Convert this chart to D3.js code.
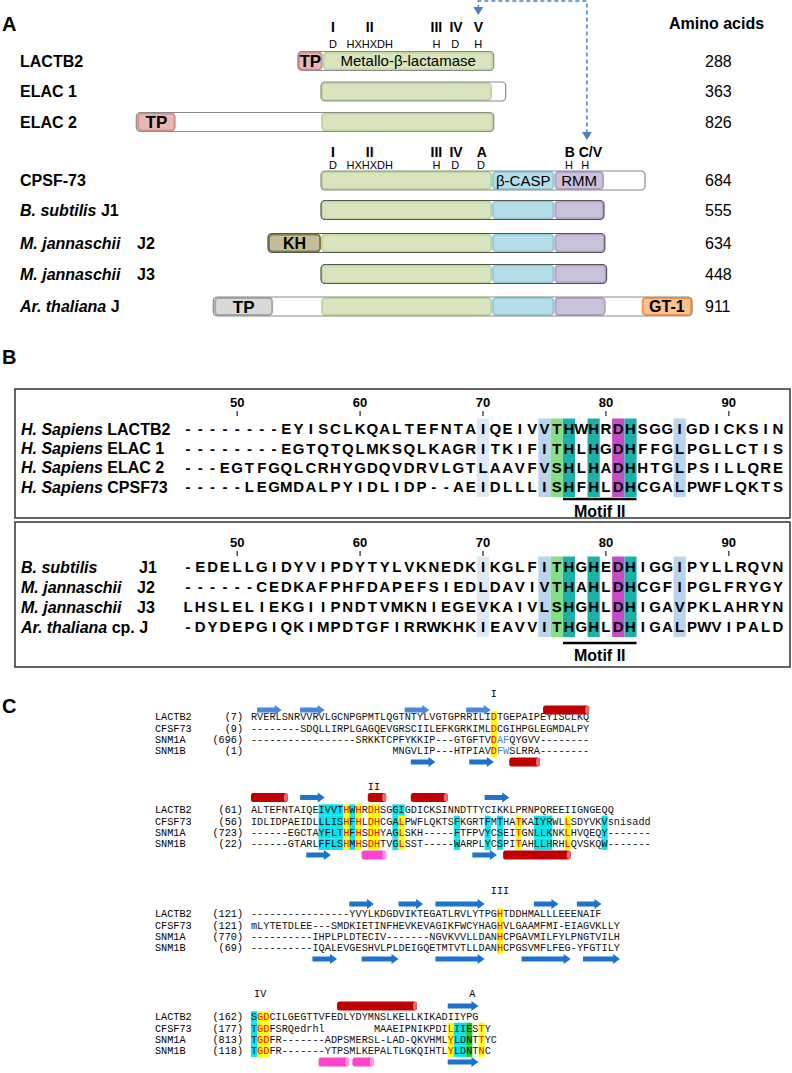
<!DOCTYPE html>
<html>
<head>
<meta charset="utf-8">
<script src="https://cdn.jsdelivr.net/npm/d3@7/dist/d3.min.js"></script>
<style>
  body { margin: 0; background: #fff; }
  text { font-family: "Liberation Sans", Arial, sans-serif; }
  .mono { font-family: "Liberation Mono", "Courier New", monospace; }
</style>
</head>
<body>
<svg id="fig" width="792" height="1073"></svg>
<script>
//------------ PANEL A DATA -----------
var protNames = ["LACTB2", "ELAC 1", "ELAC 2", "CPSF-73", "J1", "J2", "J3", "J"];
var protSpecies = ["", "", "", "", "B. subtilis", "M. jannaschii", "M. jannaschii", "Ar. thaliana"];
var aaLengths = [288, 363, 826, 684, 555, 634, 448, 911];
// schematic units: the metallo-b-lactamase core runs 0..100
var protSpans = [[-13.5, 101], [0, 108], [-108, 101], [0, 189.5], [0, 165.5], [-31, 166], [0, 167], [-63, 217]];
var domLACTB2 = [["TP", -13.5, 1, "TP"], ["MBL", 1, 101, "Metallo-β-lactamase"]];
var domELAC1 = [["MBL", 0, 100, ""]];
var domELAC2 = [["TP", -107.5, -85, "TP"], ["MBL", 0, 101, ""]];
var domCPSF73 = [["MBL", 0, 100, ""], ["CASP", 100, 136.5, "β-CASP"], ["RMM", 136.5, 165.5, "RMM"]];
var domJ1 = [["MBL", 0, 100, ""], ["CASP", 100, 136.5, ""], ["RMM", 136.5, 165.5, ""]];
var domJ2 = [["KH", -31, 0, "KH"], ["MBL", 0, 100, ""], ["CASP", 100, 136.5, ""], ["RMM", 136.5, 166, ""]];
var domJ3 = [["MBL", 0, 100, ""], ["CASP", 100, 136.5, ""], ["RMM", 136.5, 167, ""]];
var domArJ = [["TPg", -62.5, -28, "TP"], ["MBL", 0, 100, ""], ["CASP", 100, 136.5, ""], ["RMM", 136.5, 166.5, ""], ["GT", 187.5, 217, "GT-1"]];
// [numeral, residue, numeral position, residue position]
var motifsTop = [["I", "D", 7, 7], ["II", "HXHXDH", 28.5, 28.5], ["III", "H", 67.5, 67.5], ["IV", "D", 79, 78.5], ["V", "H", 92, 92]];
var motifsLow = [["I", "D", 7, 7], ["II", "HXHXDH", 28.5, 28.5], ["III", "H", 67.5, 67.5], ["IV", "D", 79, 78.5], ["A", "D", 94, 93.5],
  ["B", "H", 145.5, 145], ["C/V", "H", 157.5, 154.5]];

//------------ PANEL B DATA -----------
var posTicks = [50, 60, 70, 80, 90];
var hsNames = ["LACTB2", "ELAC 1", "ELAC 2", "CPSF73"];
var hsSeqs = [
  "--------EYISCLKQALTEFNTAIQEIVVTHWHRDHSGGIGDICKSIN",
  "--------EGTQTQLMKSQLKAGRITKIFITHLHGDHFFGLPGLLCTIS",
  "---EGTFGQLCRHYGDQVDRVLGTLAAVFVSHLHADHHTGLPSILLQRE",
  "-----LEGMDALPYIDLIDP--AEIDLLLISHFHLDHCGALPWFLQKTS"
];
var jSpecies = ["B. subtilis", "M. jannaschii", "M. jannaschii", "Ar. thaliana"];
var jNames = ["J1", "J2", "J3", "cp. J"];
var jSeqs = [
  "-EDELLGIDYVIPDYTYLVKNEDKIKGLFITHGHEDHIGGIPYLLRQVN",
  "------CEDKAFPHFDAPEFSIEDLDAVIVTHAHLDHCGFIPGLFRYGY",
  "LHSLELIEKGIIPNDTVMKNIEGEVKAIVLSHGHLDHIGAVPKLAHRYN",
  "-DYDEPGIQKIMPDTGFIRRWKHKIEAVVITHGHLDHIGALPWVIPALD"
];
var firstPos = 46;
// [residue position, shading class]
var shadePos = [[70, "pale"], [75, "blue"], [76, "green"], [77, "teal"], [79, "teal"], [81, "mag"], [82, "teal"], [86, "blue"]];
var motifIIPos = [77, 82];

//------------ PANEL C DATA -----------
var cNames = ["LACTB2", "CFSF73", "SNM1A", "SNM1B"];
var c1Start = ["(7)", "(9)", "(696)", "(1)"];
var c1Seqs = [
  "RVERLSNRVVRVLGCNPGPMTLQGTNTYLVGTGPRRILIDTGEPAIPEYISCLKQ",
  "--------SDQLLIRPLGAGQEVGRSCIILEFKGRKIMLDCGIHPGLEGMDALPY",
  "-----------------SRKKTCPFYKKIP---GTGFTVDAFQYGVV--------",
  "                       MNGVLIP---HTPIAVDFWSLRRA--------"
];
var c2Start = ["(61)", "(56)", "(723)", "(22)"];
var c2Seqs = [
  "ALTEFNTAIQEIVVTHWHRDHSGGIGDICKSINNDTTYCIKKLPRNPQREEIIGNGEQQ",
  "IDLIDPAEIDLLLISHFHLDHCGALPWFLQKTSFKGRTFMTHATKAIYRWLLSDYVKVsnisadd",
  "------EGCTAYFLTHFHSDHYAGLSKH-----FTFPVYCSEITGNLLKNKLHVQEQY-------",
  "------GTARLFFLSHMHSDHTVGLSST-----WARPLYCSPITAHLLHRHLQVSKQW-------"
];
var c3Start = ["(121)", "(121)", "(770)", "(69)"];
var c3Seqs = [
  "----------------YVYLKDGDVIKTEGATLRVLYTPGHTDDHMALLLEEENAIF",
  "mLYTETDLEE---SMDKIETINFHEVKEVAGIKFWCYHAGHVLGAAMFMI-EIAGVKLLY",
  "----------IHPLPLDTECIV-------NGVKVVLLDANHCPGAVMILFYLPNGTVILH",
  "----------IQALEVGESHVLPLDEIGQETMTVTLLDANHCPGSVMFLFEG-YFGTILY"
];
var c4Start = ["(162)", "(177)", "(813)", "(118)"];
var c4Seqs = [
  "SGDCILGEGTTVFEDLYDYMNSLKELLKIKADIIYPG",
  "TGDFSRQedrhl        MAAEIPNIKPDILIIESTY",
  "TGDFR-------ADPSMERSL-LAD-QKVHMLYLDNTTYC",
  "TGDFR-------YTPSMLKEPALTLGKQIHTLYLDNTNC"
];
// shading: [fromCol, toCol, rows, kind]  y = yellow/red, c = cyan, g = green, b = blue letters
var c1Shade = [[39, 39, [0, 1, 2, 3], "y"], [40, 41, [2, 3], "b"]];
var c2Shade = [[11, 14, [0, 1, 2, 3], "c"], [15, 15, [0, 1, 2, 3], "y"], [16, 16, [0, 1, 2, 3], "c"], [17, 17, [0, 1, 2, 3], "y"],
  [19, 20, [0, 1, 2, 3], "y"], [23, 23, [0, 1, 2, 3], "c"], [24, 24, [0], "c"], [24, 24, [1, 2, 3], "y"],
  [33, 33, [1, 2, 3], "c"], [38, 38, [1, 2, 3], "c"], [40, 40, [1, 2, 3], "c"], [43, 43, [1, 2, 3], "y"],
  [46, 48, [1, 2, 3], "c"], [51, 51, [1, 2, 3], "y"], [57, 57, [1, 2, 3], "c"]];
var c3Shade = [[40, 40, [0, 1, 2, 3], "y"]];
var c4Shade = [[0, 0, [0, 1, 2, 3], "c"], [1, 2, [0, 1, 2, 3], "y"], [32, 32, [1, 2, 3], "y"], [33, 34, [1, 2, 3], "c"],
  [35, 35, [1, 2, 3], "g"], [37, 37, [1, 2, 3], "y"]];
// secondary structure: [kind, fromCol, toCol]  a = strand arrow, h = red helix, m = magenta helix
var c1Top = [["a", 1, 4], ["a", 8, 11], ["a", 25, 28], ["a", 35, 38], ["h", 47.5, 54]];
var c1Bot = [["a", 26, 29], ["a", 35.5, 38.5], ["h", 42, 46]];
var c2Top = [["h", 0, 5], ["a", 8, 11], ["h", 19, 21], ["h", 26, 31], ["a", 38, 41]];
var c2Bot = [["a", 9, 12], ["m", 18, 21], ["a", 36, 39], ["h", 41, 51]];
var c3Top = [["a", 16, 19], ["a", 24, 27], ["a", 30, 37], ["a", 46, 49], ["a", 53, 56]];
var c3Bot = [["a", 10, 13], ["a", 18, 23], ["a", 30, 37], ["a", 44, 51], ["a", 54, 59]];
var c4Top = [["h", 14, 26], ["a", 32, 36]];
var c4Bot = [["m", 11, 15], ["m", 16.5, 19], ["a", 32, 36]];
var c1Marks = [["I", 39]];
var c2Marks = [["II", 19.5]];
var c3Marks = [["III", 40]];
var c4Marks = [["IV", 1], ["A", 35.5]];

var svg = d3.select("#fig");

//------------ PANEL LETTERS -----------
[["A", 24], ["B", 357], ["C", 706]].forEach(function(p){
  svg.append("text").attr("x", 2).attr("y", p[1]).attr("dy", "0.35em")
    .style("font-size", "20px").style("font-weight", "bold").text(p[0]);
});

//------------ PANEL A -----------
var xA = d3.scaleLinear().domain([0, 100]).range([321, 492]);
var yA = d3.scaleOrdinal().domain(d3.range(8)).range([61, 91.5, 122, 180.5, 210, 243, 274, 306.5]);
var domRows = [domLACTB2, domELAC1, domELAC2, domCPSF73, domJ1, domJ2, domJ3, domArJ];
var domStyle = {
  TP:   {fill: "#e6b9b8", stroke: "#d48f8d", bold: true, size: 17},
  TPg:  {fill: "#d9d9d9", stroke: "#a8a8a8", bold: true, size: 17},
  MBL:  {fill: "#d7e4bd", stroke: "#c3d69b", bold: false, size: 15},
  CASP: {fill: "#b7dee8", stroke: "#92cddc", bold: false, size: 15},
  RMM:  {fill: "#ccc1da", stroke: "#b3a2c7", bold: false, size: 15},
  KH:   {fill: "#c4bd97", stroke: "#857a45", bold: true, size: 16},
  GT:   {fill: "#fac090", stroke: "#f79646", bold: true, size: 16}
};
var bh = 19;

var gA = svg.append("g");
protNames.forEach(function(name, i){
  var y = yA(i);
  var lab = gA.append("text").attr("x", 20).attr("y", y).attr("dy", "0.36em")
    .style("font-size", "16px").style("font-weight", "bold");
  if (protSpecies[i] === "") {
    lab.text(name);
  } else {
    lab.append("tspan").style("font-style", "italic").text(protSpecies[i]);
    if (i == 5 || i == 6) {
      gA.append("text").attr("x", 137).attr("y", y).attr("dy", "0.36em")
        .style("font-size", "16px").style("font-weight", "bold").text(name);
    } else {
      lab.append("tspan").text(" " + name);
    }
  }
  // white body of the protein
  var sp = protSpans[i];
  gA.append("rect").attr("x", xA(sp[0])).attr("y", y - bh / 2).attr("width", xA(sp[1]) - xA(sp[0])).attr("height", bh)
    .attr("rx", 4).attr("fill", "#fff");
  domRows[i].forEach(function(d){
    var st = domStyle[d[0]];
    gA.append("rect").attr("x", xA(d[1]) + 1).attr("y", y - bh / 2 + 1)
      .attr("width", xA(d[2]) - xA(d[1]) - 2).attr("height", bh - 2).attr("rx", 3.5)
      .attr("fill", st.fill).attr("stroke", st.stroke).attr("stroke-width", 2);
    if (d[3] !== "") {
      gA.append("text").attr("x", (xA(d[1]) + xA(d[2])) / 2).attr("y", y).attr("dy", "0.36em")
        .attr("text-anchor", "middle").style("font-size", st.size + "px")
        .style("font-weight", st.bold ? "bold" : "normal").text(d[3]);
    }
  });
  gA.append("rect").attr("x", xA(sp[0])).attr("y", y - bh / 2).attr("width", xA(sp[1]) - xA(sp[0])).attr("height", bh)
    .attr("rx", 4).attr("fill", "none").attr("stroke", i >= 4 && i <= 6 ? "#555" : "#8a8a8a").attr("stroke-width", 1.2);
  gA.append("text").attr("x", 705).attr("y", y).attr("dy", "0.36em")
    .style("font-size", "16px").text(aaLengths[i]);
});
gA.append("text").attr("x", 669).attr("y", 23).attr("dy", "0.36em")
  .style("font-size", "16px").style("font-weight", "bold").text("Amino acids");

function motifHeader(list, yNum, yRes){
  list.forEach(function(m){
    gA.append("text").attr("x", xA(m[2])).attr("y", yNum).attr("dy", "0.36em").attr("text-anchor", "middle")
      .style("font-size", "14px").style("font-weight", "bold").text(m[0]);
    gA.append("text").attr("x", xA(m[3])).attr("y", yRes).attr("dy", "0.36em").attr("text-anchor", "middle")
      .style("font-size", "11px").text(m[1]);
  });
}
motifHeader(motifsTop, 27, 44);
motifHeader(motifsLow, 152, 165);

// dashed link between motif V and motif C/V
var xV = xA(motifsTop[4][2]), xCV = xA(155.5);
gA.append("path").attr("d", "M" + xV + ",9 V1 H" + xCV + " V134")
  .attr("fill", "none").attr("stroke", "#4f81bd").attr("stroke-width", 1.5).attr("stroke-dasharray", "4,3");
[[xV, 15], [xCV, 140]].forEach(function(t){
  gA.append("path").attr("d", "M" + (t[0] - 5) + "," + (t[1] - 8) + " L" + (t[0] + 5) + "," + (t[1] - 8) + " L" + t[0] + "," + t[1] + "Z")
    .attr("fill", "#4f81bd");
});

//------------ PANEL B -----------
var xB = d3.scaleLinear().domain([firstPos, firstPos + 48]).range([188, 778]);
var shadeColor = {pale: "#dfe9f6", blue: "#bad4ef", green: "#86de86", teal: "#1cb0a9", mag: "#c84bc8"};
var gB = svg.append("g");

function seqBox(top, bottom, tickY, rowYs, seqs, drawLabel, motifY){
  gB.append("rect").attr("x", 15).attr("y", top).attr("width", 775).attr("height", bottom - top)
    .attr("fill", "none").attr("stroke", "#333").attr("stroke-width", 1.5);
  shadePos.forEach(function(s){
    gB.append("rect").attr("x", xB(s[0]) - 6.1).attr("y", rowYs[0] - 10.5)
      .attr("width", 12.2).attr("height", rowYs[rowYs.length - 1] - rowYs[0] + 20.5)
      .attr("fill", shadeColor[s[1]]);
  });
  posTicks.forEach(function(p){
    gB.append("text").attr("x", xB(p)).attr("y", tickY).attr("dy", "0.36em").attr("text-anchor", "middle")
      .style("font-size", "13px").style("font-weight", "bold").text(p);
    gB.append("line").attr("x1", xB(p)).attr("x2", xB(p)).attr("y1", tickY + 9).attr("y2", tickY + 14)
      .attr("stroke", "#222").attr("stroke-width", 1.2);
  });
  seqs.forEach(function(seq, r){
    drawLabel(r, rowYs[r]);
    seq.split("").forEach(function(ch, k){
      gB.append("text").attr("x", xB(firstPos + k)).attr("y", rowYs[r]).attr("dy", "0.36em")
        .attr("text-anchor", "middle").style("font-size", "15px").style("font-weight", "bold")
        .text(ch);
    });
  });
  gB.append("line").attr("x1", xB(motifIIPos[0]) - 6).attr("x2", xB(motifIIPos[1]) + 6)
    .attr("y1", motifY).attr("y2", motifY).attr("stroke", "#000").attr("stroke-width", 2.5);
  gB.append("text").attr("x", (xB(motifIIPos[0]) + xB(motifIIPos[1])) / 2).attr("y", motifY + 12).attr("dy", "0.36em")
    .attr("text-anchor", "middle").style("font-size", "16px").style("font-weight", "bold").text("Motif II");
}

seqBox(389, 518, 402, [429, 448.3, 467.6, 487], hsSeqs, function(r, y){
  var t = gB.append("text").attr("x", 21).attr("y", y).attr("dy", "0.36em")
    .style("font-size", "16px").style("font-weight", "bold");
  t.append("tspan").style("font-style", "italic").text("H. Sapiens");
  t.append("tspan").text(" " + hsNames[r]);
}, 499);

seqBox(522, 667, 542, [567, 587, 607, 627], jSeqs, function(r, y){
  var t = gB.append("text").attr("x", 21).attr("y", y).attr("dy", "0.36em")
    .style("font-size", "16px").style("font-weight", "bold");
  t.append("tspan").style("font-style", "italic").text(jSpecies[r]);
  if (r == 3) {
    t.append("tspan").text(" " + jNames[r]);
  } else {
    gB.append("text").attr("x", r == 0 ? 139 : 137).attr("y", y).attr("dy", "0.36em")
      .style("font-size", "16px").style("font-weight", "bold").text(jNames[r]);
  }
}, 643);

//------------ PANEL C -----------
var colW = 6.15;
var xC = d3.scaleLinear().domain([0, 64]).range([254, 254 + 64 * colW]);
var rowStep = 11.4;
var gC = svg.append("g");
var kindFill = {y: "#ffff00", c: "#00e5ee", g: "#22c522"};

function strandArrow(x0, x1, y, color){
  var hl = 7;
  var p = "M" + x0 + "," + (y - 2.5) + " H" + (x1 - hl) + " V" + (y - 5) + " L" + x1 + "," + y +
    " L" + (x1 - hl) + "," + (y + 5) + " V" + (y + 2.5) + " H" + x0 + " Z";
  gC.append("path").attr("d", p).attr("fill", color);
}
function helix(x0, x1, y, color, light){
  gC.append("rect").attr("x", x0).attr("y", y - 4.5).attr("width", x1 - x0).attr("height", 9)
    .attr("rx", 2.5).attr("fill", color);
  gC.append("ellipse").attr("cx", x1 - 2).attr("cy", y).attr("rx", 2).attr("ry", 4.3).attr("fill", light);
}
function drawStruct(list, y, arrowColor){
  list.forEach(function(s){
    var x0 = xC(s[1]) - colW / 2, x1 = xC(s[2]) + colW / 2;
    if (s[0] == "a") strandArrow(x0, x1, y, arrowColor);
    else if (s[0] == "h") helix(x0, x1, y, "#c00000", "#e07070");
    else helix(x0, x1, y, "#ff44cc", "#ff9be6");
  });
}

function alignBlock(y0, starts, seqs, shades, topS, botS, marks, topOff, topColor){
  var rowY = function(r){ return y0 + r * rowStep; };
  // shading behind letters
  var letterColor = {};
  shades.forEach(function(s){
    s[2].forEach(function(r){
      for (var k = s[0]; k <= s[1]; k++) {
        if (s[3] == "b") { letterColor[r + "_" + k] = "#3f86d8"; continue; }
        gC.append("rect").attr("x", xC(k) - colW / 2).attr("y", rowY(r) - rowStep / 2)
          .attr("width", colW).attr("height", rowStep).attr("fill", kindFill[s[3]]);
        if (s[3] == "y") letterColor[r + "_" + k] = "#ff0000";
      }
    });
  });
  seqs.forEach(function(seq, r){
    gC.append("text").attr("class", "mono").attr("x", 155).attr("y", rowY(r)).attr("dy", "0.32em")
      .style("font-size", "10.2px").text(cNames[r]);
    gC.append("text").attr("class", "mono").attr("x", 243).attr("y", rowY(r)).attr("dy", "0.32em")
      .attr("text-anchor", "end").style("font-size", "10.2px").text(starts[r]);
    seq.split("").forEach(function(ch, k){
      if (ch == " ") return;
      gC.append("text").attr("class", "mono").attr("x", xC(k)).attr("y", rowY(r)).attr("dy", "0.32em")
        .attr("text-anchor", "middle").style("font-size", "10.2px")
        .attr("fill", letterColor[r + "_" + k] || "#111").text(ch);
    });
  });
  drawStruct(topS, y0 + topOff, topColor);
  drawStruct(botS, y0 + 45, "#1c72cc");
  marks.forEach(function(m){
    gC.append("text").attr("class", "mono").attr("x", xC(m[1])).attr("y", y0 - 23).attr("dy", "0.32em")
      .attr("text-anchor", "middle").style("font-size", "10.2px").text(m[0]);
  });
}

alignBlock(717, c1Start, c1Seqs, c1Shade, c1Top, c1Bot, c1Marks, -7, "#4a88da");
alignBlock(810, c2Start, c2Seqs, c2Shade, c2Top, c2Bot, c2Marks, -12.5, "#1c72cc");
alignBlock(914, c3Start, c3Seqs, c3Shade, c3Top, c3Bot, c3Marks, -10, "#1c72cc");
alignBlock(1017, c4Start, c4Seqs, c4Shade, c4Top, c4Bot, c4Marks, -11, "#1c72cc");
</script>
</body>
</html>
